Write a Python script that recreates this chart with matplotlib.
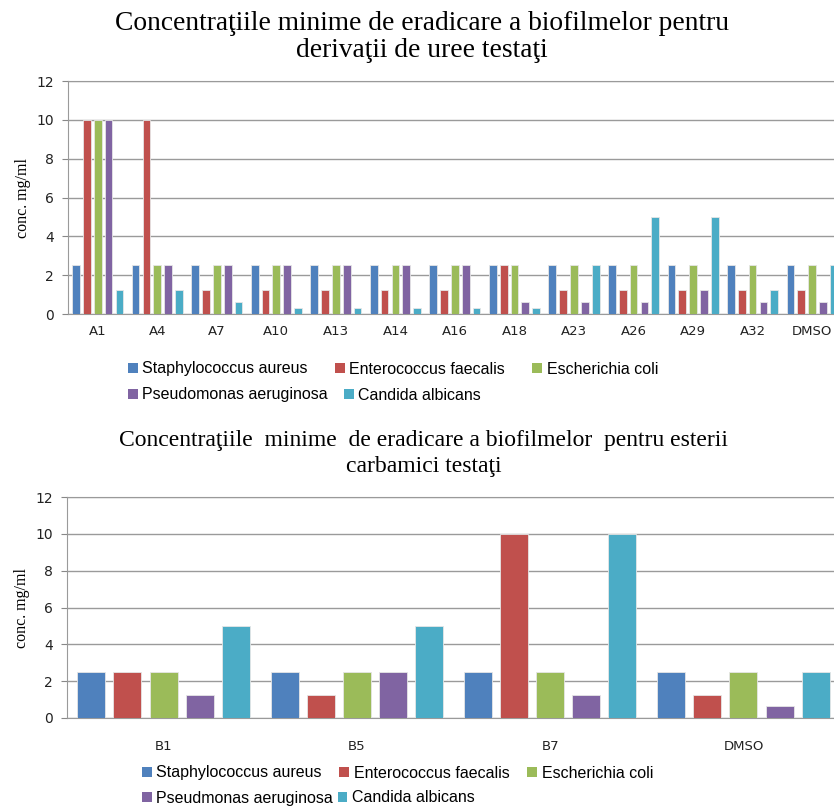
import numpy as np
import matplotlib
matplotlib.use('Agg')
from matplotlib import pyplot as plt
from matplotlib.patches import Patch

# Series shared by both panels
species = ['Staphylococcus aureus', 'Enterococcus faecalis', 'Escherichia coli',
           'Pseudomonas aeruginosa', 'Candida albicans']
species_carb = ['Staphylococcus aureus', 'Enterococcus faecalis', 'Escherichia coli',
                'Pseudmonas aeruginosa', 'Candida albicans']
colors = ['#4F81BD', '#C0504D', '#9BBB59', '#8064A2', '#4BACC6']

# Urea derivatives (mg/ml)
urea_labels = ['A1', 'A4', 'A7', 'A10', 'A13', 'A14', 'A16', 'A18', 'A23',
               'A26', 'A29', 'A32', 'DMSO']
urea_sa = [2.5, 2.5, 2.5, 2.5, 2.5, 2.5, 2.5, 2.5, 2.5, 2.5, 2.5, 2.5, 2.5]
urea_ef = [10, 10, 1.25, 1.25, 1.25, 1.25, 1.25, 2.5, 1.25, 1.25, 1.25, 1.25, 1.25]
urea_ec = [10, 2.5, 2.5, 2.5, 2.5, 2.5, 2.5, 2.5, 2.5, 2.5, 2.5, 2.5, 2.5]
urea_pa = [10, 2.5, 2.5, 2.5, 2.5, 2.5, 2.5, 0.625, 0.625, 0.625, 1.25, 0.625, 0.625]
urea_ca = [1.25, 1.25, 0.625, 0.3125, 0.3125, 0.3125, 0.3125, 0.3125, 2.5, 5, 5, 1.25, 2.5]

# Carbamic esters (mg/ml)
carb_labels = ['B1', 'B5', 'B7', 'DMSO']
carb_sa = [2.5, 2.5, 2.5, 2.5]
carb_ef = [2.5, 1.25, 10, 1.25]
carb_ec = [2.5, 2.5, 2.5, 2.5]
carb_pa = [1.25, 2.5, 1.25, 0.625]
carb_ca = [5, 5, 10, 2.5]

serif = ['Liberation Serif', 'DejaVu Serif']
sans = ['DejaVu Sans']
legend_font = ['Liberation Sans', 'DejaVu Sans']

W, H = 834.0, 807.0


def draw_panel(ax, labels, series, step, width, xpad):
    x = np.arange(len(labels))
    for i, vals in enumerate(series):
        ax.bar(x + (i - 2) * step, vals, width=width, color=colors[i],
               edgecolor='#e6e6e6', linewidth=0.6, zorder=3)
    ax.set_xlim(-0.5, len(labels) - 0.5)
    ax.set_ylim(0, 12)
    ax.set_yticks(range(0, 13, 2))
    ax.set_xticks(x)
    ax.set_xticklabels(labels, family=sans, fontsize=9.5, color='#222222')
    for t in ax.get_yticklabels():
        t.set_family(sans)
        t.set_fontsize(10)
        t.set_color('#222222')
    ax.tick_params(axis='x', length=0, pad=xpad)
    ax.tick_params(axis='y', length=4, color='#888888', pad=6)
    ax.grid(axis='y', color='#9a9a9a', linewidth=1.0, zorder=0)
    for side in ('left', 'bottom', 'top'):
        ax.spines[side].set_color('#9a9a9a')
    ax.spines['right'].set_visible(False)
    ax.set_ylabel('conc. mg/ml', family=serif, fontsize=11.5)
    ax.yaxis.set_label_coords(-0.048, 0.5)


def legend_row(fig, names, idx, x_px, y_px, colspace):
    # one legend per row so that each row keeps its own spacing
    handles = [Patch(facecolor=colors[i], edgecolor='none') for i in idx]
    leg = fig.legend(handles, [names[i] for i in idx], ncol=len(idx),
                     loc='center left', bbox_to_anchor=(x_px / W, 1 - y_px / H),
                     frameon=False, handlelength=0.6, handleheight=0.6,
                     handletextpad=0.3, columnspacing=colspace,
                     borderpad=0, borderaxespad=0,
                     prop={'family': legend_font, 'size': 11.5})
    return leg


fig = plt.figure(figsize=(8.34, 8.07), dpi=100, facecolor='w')

ax1 = fig.add_axes([0.0815, 0.6109, 0.928, 0.2887])
draw_panel(ax1, urea_labels, [urea_sa, urea_ef, urea_ec, urea_pa, urea_ca],
           step=0.182, width=0.13, xpad=8)
fig.text(0.506, 0.954,
         'Concentraţiile minime de eradicare a biofilmelor pentru\n'
         'derivaţii de uree testaţi',
         ha='center', va='center', family=serif, fontsize=19.8, linespacing=1.1)
legend_row(fig, species, [0, 1, 2], 128, 369, 1.7)
legend_row(fig, species, [3, 4], 128, 395, 1.0)

ax2 = fig.add_axes([0.0803, 0.1103, 0.927, 0.2738])
draw_panel(ax2, carb_labels, [carb_sa, carb_ef, carb_ec, carb_pa, carb_ca],
           step=0.187, width=0.145, xpad=16)
fig.text(0.508, 0.4385,
         'Concentraţiile  minime  de eradicare a biofilmelor  pentru esterii\n'
         'carbamici testaţi',
         ha='center', va='center', family=serif, fontsize=17, linespacing=1.3)
legend_row(fig, species_carb, [0, 1, 2], 142, 773, 1.1)
legend_row(fig, species_carb, [3, 4], 142, 798, 0.3)

fig.savefig('out.png', dpi=100, facecolor='w')
